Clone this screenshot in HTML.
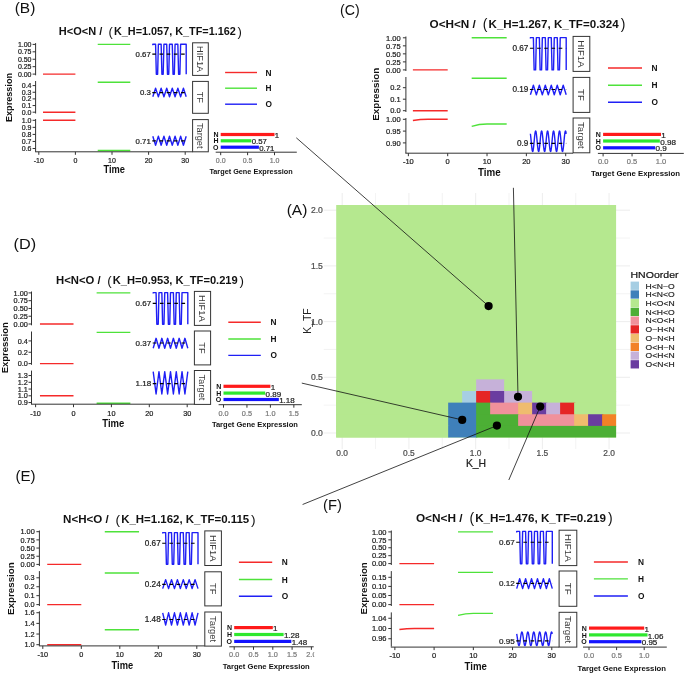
<!DOCTYPE html>
<html><head><meta charset="utf-8"><style>
html,body{margin:0;padding:0;background:#fff;}
body{width:685px;height:673px;overflow:hidden;}
svg{display:block;font-family:"Liberation Sans",sans-serif;will-change:transform;}
</style></head><body>
<svg width="685" height="673" viewBox="0 0 685 673">
<defs><clipPath id="clipE"><rect x="0" y="600" width="314.2" height="73"/></clipPath></defs>
<rect width="685" height="673" fill="#fff"/>
<line x1="342.20" y1="193.00" x2="342.20" y2="449.00" stroke="#ebebeb" stroke-width="0.9" />
<line x1="323.80" y1="433.00" x2="630.00" y2="433.00" stroke="#ebebeb" stroke-width="0.9" />
<line x1="375.56" y1="193.00" x2="375.56" y2="449.00" stroke="#ebebeb" stroke-width="0.6" />
<line x1="323.80" y1="405.15" x2="630.00" y2="405.15" stroke="#ebebeb" stroke-width="0.6" />
<line x1="408.92" y1="193.00" x2="408.92" y2="449.00" stroke="#ebebeb" stroke-width="0.9" />
<line x1="323.80" y1="377.30" x2="630.00" y2="377.30" stroke="#ebebeb" stroke-width="0.9" />
<line x1="442.29" y1="193.00" x2="442.29" y2="449.00" stroke="#ebebeb" stroke-width="0.6" />
<line x1="323.80" y1="349.45" x2="630.00" y2="349.45" stroke="#ebebeb" stroke-width="0.6" />
<line x1="475.65" y1="193.00" x2="475.65" y2="449.00" stroke="#ebebeb" stroke-width="0.9" />
<line x1="323.80" y1="321.60" x2="630.00" y2="321.60" stroke="#ebebeb" stroke-width="0.9" />
<line x1="509.01" y1="193.00" x2="509.01" y2="449.00" stroke="#ebebeb" stroke-width="0.6" />
<line x1="323.80" y1="293.75" x2="630.00" y2="293.75" stroke="#ebebeb" stroke-width="0.6" />
<line x1="542.38" y1="193.00" x2="542.38" y2="449.00" stroke="#ebebeb" stroke-width="0.9" />
<line x1="323.80" y1="265.90" x2="630.00" y2="265.90" stroke="#ebebeb" stroke-width="0.9" />
<line x1="575.74" y1="193.00" x2="575.74" y2="449.00" stroke="#ebebeb" stroke-width="0.6" />
<line x1="323.80" y1="238.05" x2="630.00" y2="238.05" stroke="#ebebeb" stroke-width="0.6" />
<line x1="609.10" y1="193.00" x2="609.10" y2="449.00" stroke="#ebebeb" stroke-width="0.9" />
<line x1="323.80" y1="210.20" x2="630.00" y2="210.20" stroke="#ebebeb" stroke-width="0.9" />
<rect x="336.2" y="205.0" width="279.90" height="232.50" fill="#b5e88f"/>
<rect x="336.20" y="379.38" width="141.15" height="12.82" fill="#b5e88f"/>
<rect x="476.15" y="379.38" width="29.19" height="12.82" fill="#c6b1d9"/>
<rect x="504.14" y="379.38" width="111.96" height="12.82" fill="#b5e88f"/>
<rect x="336.20" y="391.00" width="127.16" height="12.82" fill="#b5e88f"/>
<rect x="462.15" y="391.00" width="15.20" height="12.82" fill="#a6cee3"/>
<rect x="476.15" y="391.00" width="15.20" height="12.82" fill="#e52525"/>
<rect x="490.14" y="391.00" width="15.20" height="12.82" fill="#6a3da0"/>
<rect x="504.14" y="391.00" width="29.19" height="12.82" fill="#c6b1d9"/>
<rect x="532.13" y="391.00" width="83.97" height="12.82" fill="#b5e88f"/>
<rect x="336.20" y="402.62" width="113.16" height="12.82" fill="#b5e88f"/>
<rect x="448.16" y="402.62" width="29.19" height="12.82" fill="#3f80ba"/>
<rect x="476.15" y="402.62" width="15.20" height="12.82" fill="#4caf35"/>
<rect x="490.14" y="402.62" width="29.19" height="12.82" fill="#f0919b"/>
<rect x="518.13" y="402.62" width="15.20" height="12.82" fill="#efbc6e"/>
<rect x="532.13" y="402.62" width="15.20" height="12.82" fill="#6a3da0"/>
<rect x="546.12" y="402.62" width="15.20" height="12.82" fill="#c6b1d9"/>
<rect x="560.12" y="402.62" width="15.20" height="12.82" fill="#e52525"/>
<rect x="574.12" y="402.62" width="41.98" height="12.82" fill="#b5e88f"/>
<rect x="336.20" y="414.25" width="113.16" height="12.82" fill="#b5e88f"/>
<rect x="448.16" y="414.25" width="29.19" height="12.82" fill="#3f80ba"/>
<rect x="476.15" y="414.25" width="43.19" height="12.82" fill="#4caf35"/>
<rect x="518.13" y="414.25" width="57.18" height="12.82" fill="#f0919b"/>
<rect x="574.12" y="414.25" width="15.20" height="12.82" fill="#efbc6e"/>
<rect x="588.11" y="414.25" width="15.20" height="12.82" fill="#6a3da0"/>
<rect x="602.11" y="414.25" width="14.00" height="12.82" fill="#f28227"/>
<rect x="336.20" y="425.88" width="113.16" height="11.62" fill="#b5e88f"/>
<rect x="448.16" y="425.88" width="29.19" height="11.62" fill="#3f80ba"/>
<rect x="476.15" y="425.88" width="139.95" height="11.62" fill="#4caf35"/>
<text x="322.90" y="436.00" font-size="8.6" text-anchor="end" stroke="#4d4d4d" stroke-width="0.22" fill="#4d4d4d" >0.0</text>
<text x="342.20" y="455.90" font-size="8.4" text-anchor="middle" stroke="#4d4d4d" stroke-width="0.22" fill="#4d4d4d" >0.0</text>
<text x="322.90" y="380.30" font-size="8.6" text-anchor="end" stroke="#4d4d4d" stroke-width="0.22" fill="#4d4d4d" >0.5</text>
<text x="408.92" y="455.90" font-size="8.4" text-anchor="middle" stroke="#4d4d4d" stroke-width="0.22" fill="#4d4d4d" >0.5</text>
<text x="322.90" y="324.60" font-size="8.6" text-anchor="end" stroke="#4d4d4d" stroke-width="0.22" fill="#4d4d4d" >1.0</text>
<text x="475.65" y="455.90" font-size="8.4" text-anchor="middle" stroke="#4d4d4d" stroke-width="0.22" fill="#4d4d4d" >1.0</text>
<text x="322.90" y="268.90" font-size="8.6" text-anchor="end" stroke="#4d4d4d" stroke-width="0.22" fill="#4d4d4d" >1.5</text>
<text x="542.38" y="455.90" font-size="8.4" text-anchor="middle" stroke="#4d4d4d" stroke-width="0.22" fill="#4d4d4d" >1.5</text>
<text x="322.90" y="213.20" font-size="8.6" text-anchor="end" stroke="#4d4d4d" stroke-width="0.22" fill="#4d4d4d" >2.0</text>
<text x="609.10" y="455.90" font-size="8.4" text-anchor="middle" stroke="#4d4d4d" stroke-width="0.22" fill="#4d4d4d" >2.0</text>
<text x="476.00" y="466.90" font-size="10.4" text-anchor="middle" stroke="#222" stroke-width="0.22" fill="#222" >K_H</text>
<text x="0" y="0" font-size="10.4" fill="#222" text-anchor="middle" transform="translate(311.3,321) rotate(-90)">K_TF</text>
<text x="286.70" y="214.90" font-size="15.5" fill="#111" textLength="20.70" lengthAdjust="spacingAndGlyphs">(A)</text>
<text x="630.5" y="278.4" font-size="9.6" fill="#111" stroke="#111" stroke-width="0.2" textLength="48" lengthAdjust="spacingAndGlyphs">HNOorder</text>
<rect x="630.6" y="281.60" width="8.4" height="8.3" fill="#a6cee3"/>
<text x="645.6" y="288.50" font-size="8" fill="#222" stroke="#222" stroke-width="0.18" textLength="29" lengthAdjust="spacingAndGlyphs">H&lt;N~O</text>
<rect x="630.6" y="290.33" width="8.4" height="8.3" fill="#3f80ba"/>
<text x="645.6" y="297.23" font-size="8" fill="#222" stroke="#222" stroke-width="0.18" textLength="29" lengthAdjust="spacingAndGlyphs">H&lt;N&lt;O</text>
<rect x="630.6" y="299.06" width="8.4" height="8.3" fill="#b5e88f"/>
<text x="645.6" y="305.96" font-size="8" fill="#222" stroke="#222" stroke-width="0.18" textLength="29" lengthAdjust="spacingAndGlyphs">H&lt;O&lt;N</text>
<rect x="630.6" y="307.79" width="8.4" height="8.3" fill="#4caf35"/>
<text x="645.6" y="314.69" font-size="8" fill="#222" stroke="#222" stroke-width="0.18" textLength="29" lengthAdjust="spacingAndGlyphs">N&lt;H&lt;O</text>
<rect x="630.6" y="316.52" width="8.4" height="8.3" fill="#f0919b"/>
<text x="645.6" y="323.42" font-size="8" fill="#222" stroke="#222" stroke-width="0.18" textLength="29" lengthAdjust="spacingAndGlyphs">N&lt;O&lt;H</text>
<rect x="630.6" y="325.25" width="8.4" height="8.3" fill="#e52525"/>
<text x="645.6" y="332.15" font-size="8" fill="#222" stroke="#222" stroke-width="0.18" textLength="29" lengthAdjust="spacingAndGlyphs">O~H&lt;N</text>
<rect x="630.6" y="333.98" width="8.4" height="8.3" fill="#efbc6e"/>
<text x="645.6" y="340.88" font-size="8" fill="#222" stroke="#222" stroke-width="0.18" textLength="29" lengthAdjust="spacingAndGlyphs">O~N&lt;H</text>
<rect x="630.6" y="342.71" width="8.4" height="8.3" fill="#f28227"/>
<text x="645.6" y="349.61" font-size="8" fill="#222" stroke="#222" stroke-width="0.18" textLength="29" lengthAdjust="spacingAndGlyphs">O&lt;H~N</text>
<rect x="630.6" y="351.44" width="8.4" height="8.3" fill="#c6b1d9"/>
<text x="645.6" y="358.34" font-size="8" fill="#222" stroke="#222" stroke-width="0.18" textLength="29" lengthAdjust="spacingAndGlyphs">O&lt;H&lt;N</text>
<rect x="630.6" y="360.17" width="8.4" height="8.3" fill="#6a3da0"/>
<text x="645.6" y="367.07" font-size="8" fill="#222" stroke="#222" stroke-width="0.18" textLength="29" lengthAdjust="spacingAndGlyphs">O&lt;N&lt;H</text>
<text x="14.70" y="12.60" font-size="15.5" fill="#111" textLength="20.70" lengthAdjust="spacingAndGlyphs">(B)</text>
<text x="58.80" y="35" font-size="11.00" font-weight="bold" fill="#111">H&lt;O&lt;N /</text>
<text x="108.60" y="36.20" font-size="13.00" fill="#111">(</text>
<text x="114.00" y="35" font-size="11.00" font-weight="bold" fill="#111" textLength="121.8" lengthAdjust="spacingAndGlyphs">K_H=1.057, K_TF=1.162</text>
<text x="237.60" y="36.20" font-size="13.00" fill="#111">)</text>
<line x1="35.60" y1="43.10" x2="35.60" y2="75.30" stroke="#333333" stroke-width="1" />
<line x1="32.60" y1="74.10" x2="35.60" y2="74.10" stroke="#333333" stroke-width="1" />
<text x="31.50" y="76.62" font-size="7.0" text-anchor="end" stroke="#222222" stroke-width="0.22" fill="#222222" >0.00</text>
<line x1="32.60" y1="66.67" x2="35.60" y2="66.67" stroke="#333333" stroke-width="1" />
<text x="31.50" y="69.19" font-size="7.0" text-anchor="end" stroke="#222222" stroke-width="0.22" fill="#222222" >0.25</text>
<line x1="32.60" y1="59.25" x2="35.60" y2="59.25" stroke="#333333" stroke-width="1" />
<text x="31.50" y="61.77" font-size="7.0" text-anchor="end" stroke="#222222" stroke-width="0.22" fill="#222222" >0.50</text>
<line x1="32.60" y1="51.82" x2="35.60" y2="51.82" stroke="#333333" stroke-width="1" />
<text x="31.50" y="54.34" font-size="7.0" text-anchor="end" stroke="#222222" stroke-width="0.22" fill="#222222" >0.75</text>
<line x1="32.60" y1="44.40" x2="35.60" y2="44.40" stroke="#333333" stroke-width="1" />
<text x="31.50" y="46.92" font-size="7.0" text-anchor="end" stroke="#222222" stroke-width="0.22" fill="#222222" >1.00</text>
<line x1="43.01" y1="74.10" x2="75.40" y2="74.10" stroke="#f52a2a" stroke-width="1.4" />
<line x1="97.73" y1="44.40" x2="130.30" y2="44.40" stroke="#4ee23a" stroke-width="1.4" />
<path d="M152.80,45.20 L152.80,44.20 L155.58,44.20 L156.33,74.30 L157.62,74.30 L158.37,44.20 L161.15,44.20 L161.90,74.30 L163.18,74.30 L163.93,44.20 L166.72,44.20 L167.47,74.30 L168.75,74.30 L169.50,44.20 L172.28,44.20 L173.03,74.30 L174.32,74.30 L175.07,44.20 L177.85,44.20 L178.60,74.30 L179.88,74.30 L180.63,44.20 L186.20,44.20 L186.20,74.30" fill="none" stroke="#1f1ff5" stroke-width="1.4" stroke-linejoin="round" />
<line x1="152.30" y1="54.10" x2="186.20" y2="54.10" stroke="#000" stroke-width="1.15" stroke-dasharray="3.6 3.6"/>
<text x="150.80" y="56.91" font-size="7.8" text-anchor="end" stroke="#222222" stroke-width="0.22" fill="#222222" >0.67</text>
<rect x="192.60" y="42.80" width="15.70" height="32.60" fill="#fff" stroke="#333" stroke-width="1"/>
<text x="0" y="0" font-size="9.2" fill="#3a3a3a" text-anchor="middle" transform="translate(197.23,59.10) rotate(90)">HIF1A</text>
<line x1="35.60" y1="81.00" x2="35.60" y2="113.50" stroke="#333333" stroke-width="1" />
<line x1="32.60" y1="112.20" x2="35.60" y2="112.20" stroke="#333333" stroke-width="1" />
<text x="31.50" y="114.72" font-size="7.0" text-anchor="end" stroke="#222222" stroke-width="0.22" fill="#222222" >0.0</text>
<line x1="32.60" y1="105.55" x2="35.60" y2="105.55" stroke="#333333" stroke-width="1" />
<text x="31.50" y="108.07" font-size="7.0" text-anchor="end" stroke="#222222" stroke-width="0.22" fill="#222222" >0.1</text>
<line x1="32.60" y1="98.90" x2="35.60" y2="98.90" stroke="#333333" stroke-width="1" />
<text x="31.50" y="101.42" font-size="7.0" text-anchor="end" stroke="#222222" stroke-width="0.22" fill="#222222" >0.2</text>
<line x1="32.60" y1="92.25" x2="35.60" y2="92.25" stroke="#333333" stroke-width="1" />
<text x="31.50" y="94.77" font-size="7.0" text-anchor="end" stroke="#222222" stroke-width="0.22" fill="#222222" >0.3</text>
<line x1="32.60" y1="85.60" x2="35.60" y2="85.60" stroke="#333333" stroke-width="1" />
<text x="31.50" y="88.12" font-size="7.0" text-anchor="end" stroke="#222222" stroke-width="0.22" fill="#222222" >0.4</text>
<line x1="43.01" y1="112.20" x2="75.40" y2="112.20" stroke="#f52a2a" stroke-width="1.4" />
<line x1="97.73" y1="82.28" x2="130.30" y2="82.28" stroke="#4ee23a" stroke-width="1.4" />
<path d="M152.80,96.80 L155.58,88.20 L158.37,96.80 L161.15,88.20 L163.93,96.80 L166.72,88.20 L169.50,96.80 L172.28,88.20 L175.07,96.80 L177.85,88.20 L180.63,96.80 L183.42,88.20 L186.20,96.80" fill="none" stroke="#1f1ff5" stroke-width="1.4" stroke-linejoin="round" />
<line x1="152.30" y1="92.60" x2="186.20" y2="92.60" stroke="#000" stroke-width="1.15" stroke-dasharray="3.6 3.6"/>
<text x="150.80" y="95.41" font-size="7.8" text-anchor="end" stroke="#222222" stroke-width="0.22" fill="#222222" >0.3</text>
<rect x="192.60" y="81.40" width="15.70" height="31.90" fill="#fff" stroke="#333" stroke-width="1"/>
<text x="0" y="0" font-size="9.2" fill="#3a3a3a" text-anchor="middle" transform="translate(197.23,97.35) rotate(90)">TF</text>
<line x1="35.60" y1="119.00" x2="35.60" y2="151.80" stroke="#333333" stroke-width="1" />
<line x1="32.60" y1="148.50" x2="35.60" y2="148.50" stroke="#333333" stroke-width="1" />
<text x="31.50" y="151.02" font-size="7.0" text-anchor="end" stroke="#222222" stroke-width="0.22" fill="#222222" >0.6</text>
<line x1="32.60" y1="141.45" x2="35.60" y2="141.45" stroke="#333333" stroke-width="1" />
<text x="31.50" y="143.97" font-size="7.0" text-anchor="end" stroke="#222222" stroke-width="0.22" fill="#222222" >0.7</text>
<line x1="32.60" y1="134.40" x2="35.60" y2="134.40" stroke="#333333" stroke-width="1" />
<text x="31.50" y="136.92" font-size="7.0" text-anchor="end" stroke="#222222" stroke-width="0.22" fill="#222222" >0.8</text>
<line x1="32.60" y1="127.35" x2="35.60" y2="127.35" stroke="#333333" stroke-width="1" />
<text x="31.50" y="129.87" font-size="7.0" text-anchor="end" stroke="#222222" stroke-width="0.22" fill="#222222" >0.9</text>
<line x1="32.60" y1="120.30" x2="35.60" y2="120.30" stroke="#333333" stroke-width="1" />
<text x="31.50" y="122.82" font-size="7.0" text-anchor="end" stroke="#222222" stroke-width="0.22" fill="#222222" >1.0</text>
<line x1="43.01" y1="120.30" x2="75.40" y2="120.30" stroke="#f52a2a" stroke-width="1.4" />
<line x1="97.73" y1="150.50" x2="130.30" y2="150.50" stroke="#4ee23a" stroke-width="1.4" />
<path d="M152.80,136.20 L155.58,145.20 L158.37,136.20 L161.15,145.20 L163.93,136.20 L166.72,145.20 L169.50,136.20 L172.28,145.20 L175.07,136.20 L177.85,145.20 L180.63,136.20 L183.42,145.20 L186.20,136.20" fill="none" stroke="#1f1ff5" stroke-width="1.4" stroke-linejoin="round" />
<line x1="152.30" y1="140.90" x2="186.20" y2="140.90" stroke="#000" stroke-width="1.15" stroke-dasharray="3.6 3.6"/>
<text x="150.80" y="143.71" font-size="7.8" text-anchor="end" stroke="#222222" stroke-width="0.22" fill="#222222" >0.71</text>
<rect x="192.60" y="119.60" width="15.70" height="32.20" fill="#fff" stroke="#333" stroke-width="1"/>
<text x="0" y="0" font-size="9.2" fill="#3a3a3a" text-anchor="middle" transform="translate(197.23,135.70) rotate(90)">Target</text>
<line x1="35.10" y1="151.80" x2="192.60" y2="151.80" stroke="#333333" stroke-width="1" />
<line x1="38.80" y1="151.80" x2="38.80" y2="154.80" stroke="#333333" stroke-width="1" />
<text x="38.80" y="162.52" font-size="7.0" text-anchor="middle" stroke="#222222" stroke-width="0.22" fill="#222222" >-10</text>
<line x1="75.40" y1="151.80" x2="75.40" y2="154.80" stroke="#333333" stroke-width="1" />
<text x="75.40" y="162.52" font-size="7.0" text-anchor="middle" stroke="#222222" stroke-width="0.22" fill="#222222" >0</text>
<line x1="112.00" y1="151.80" x2="112.00" y2="154.80" stroke="#333333" stroke-width="1" />
<text x="112.00" y="162.52" font-size="7.0" text-anchor="middle" stroke="#222222" stroke-width="0.22" fill="#222222" >10</text>
<line x1="148.60" y1="151.80" x2="148.60" y2="154.80" stroke="#333333" stroke-width="1" />
<text x="148.60" y="162.52" font-size="7.0" text-anchor="middle" stroke="#222222" stroke-width="0.22" fill="#222222" >20</text>
<line x1="185.20" y1="151.80" x2="185.20" y2="154.80" stroke="#333333" stroke-width="1" />
<text x="185.20" y="162.52" font-size="7.0" text-anchor="middle" stroke="#222222" stroke-width="0.22" fill="#222222" >30</text>
<text x="103.5" y="173.40" font-size="10.2" font-weight="bold" fill="#111" textLength="21.5" lengthAdjust="spacingAndGlyphs">Time</text>
<text x="0" y="0" font-size="9.5" font-weight="bold" fill="#111" textLength="49.0" lengthAdjust="spacingAndGlyphs" transform="translate(12.20,122.00) rotate(-90)">Expression</text>
<line x1="225.10" y1="72.50" x2="257.00" y2="72.50" stroke="#f52a2a" stroke-width="1.4" />
<text x="265.60" y="75.50" font-size="8.3" text-anchor="start" font-weight="bold" fill="#111" >N</text>
<line x1="225.10" y1="88.20" x2="257.00" y2="88.20" stroke="#4ee23a" stroke-width="1.4" />
<text x="265.60" y="91.20" font-size="8.3" text-anchor="start" font-weight="bold" fill="#111" >H</text>
<line x1="225.10" y1="104.20" x2="257.00" y2="104.20" stroke="#1f1ff5" stroke-width="1.4" />
<text x="265.60" y="107.20" font-size="8.3" text-anchor="start" font-weight="bold" fill="#111" >O</text>
<rect x="220.70" y="132.90" width="53.80" height="3.2" fill="#ff1a1a"/>
<text x="274.80" y="138.10" font-size="7.8" text-anchor="start" stroke="#222222" stroke-width="0.22" fill="#222222" >1</text>
<text x="218.50" y="137.10" font-size="7" text-anchor="end" font-weight="bold" fill="#111" >N</text>
<rect x="220.70" y="139.20" width="30.67" height="3.2" fill="#2ee82e"/>
<text x="251.67" y="144.40" font-size="7.8" text-anchor="start" stroke="#222222" stroke-width="0.22" fill="#222222" >0.57</text>
<text x="218.50" y="143.40" font-size="7" text-anchor="end" font-weight="bold" fill="#111" >H</text>
<rect x="220.70" y="145.60" width="38.20" height="3.2" fill="#1414ff"/>
<text x="259.20" y="150.80" font-size="7.8" text-anchor="start" stroke="#222222" stroke-width="0.22" fill="#222222" >0.71</text>
<text x="218.50" y="149.80" font-size="7" text-anchor="end" font-weight="bold" fill="#111" >O</text>
<line x1="215.70" y1="152.20" x2="296.80" y2="152.20" stroke="#333333" stroke-width="1" />
<line x1="220.70" y1="152.20" x2="220.70" y2="155.20" stroke="#333333" stroke-width="1" />
<text x="220.70" y="162.72" font-size="7.0" text-anchor="middle" stroke="#7a7a7a" stroke-width="0.22" fill="#7a7a7a" >0.0</text>
<line x1="247.60" y1="152.20" x2="247.60" y2="155.20" stroke="#333333" stroke-width="1" />
<text x="247.60" y="162.72" font-size="7.0" text-anchor="middle" stroke="#7a7a7a" stroke-width="0.22" fill="#7a7a7a" >0.5</text>
<line x1="274.50" y1="152.20" x2="274.50" y2="155.20" stroke="#333333" stroke-width="1" />
<text x="274.50" y="162.72" font-size="7.0" text-anchor="middle" stroke="#7a7a7a" stroke-width="0.22" fill="#7a7a7a" >1.0</text>
<text x="209.4" y="174.00" font-size="7.3" font-weight="bold" fill="#111" textLength="83.3" lengthAdjust="spacingAndGlyphs">Target Gene Expression</text>
<text x="340.10" y="14.60" font-size="15.5" fill="#111" textLength="19.70" lengthAdjust="spacingAndGlyphs">(C)</text>
<text x="429.50" y="28.2" font-size="11.76" font-weight="bold" fill="#111">O&lt;H&lt;N /</text>
<text x="482.74" y="29.48" font-size="13.90" fill="#111">(</text>
<text x="488.52" y="28.2" font-size="11.76" font-weight="bold" fill="#111" textLength="130.2" lengthAdjust="spacingAndGlyphs">K_H=1.267, K_TF=0.324</text>
<text x="620.66" y="29.48" font-size="13.90" fill="#111">)</text>
<line x1="405.90" y1="36.50" x2="405.90" y2="71.00" stroke="#333333" stroke-width="1" />
<line x1="402.90" y1="69.90" x2="405.90" y2="69.90" stroke="#333333" stroke-width="1" />
<text x="400.60" y="72.60" font-size="7.5" text-anchor="end" stroke="#222222" stroke-width="0.22" fill="#222222" >0.00</text>
<line x1="402.90" y1="61.88" x2="405.90" y2="61.88" stroke="#333333" stroke-width="1" />
<text x="400.60" y="64.58" font-size="7.5" text-anchor="end" stroke="#222222" stroke-width="0.22" fill="#222222" >0.25</text>
<line x1="402.90" y1="53.85" x2="405.90" y2="53.85" stroke="#333333" stroke-width="1" />
<text x="400.60" y="56.55" font-size="7.5" text-anchor="end" stroke="#222222" stroke-width="0.22" fill="#222222" >0.50</text>
<line x1="402.90" y1="45.83" x2="405.90" y2="45.83" stroke="#333333" stroke-width="1" />
<text x="400.60" y="48.53" font-size="7.5" text-anchor="end" stroke="#222222" stroke-width="0.22" fill="#222222" >0.75</text>
<line x1="402.90" y1="37.80" x2="405.90" y2="37.80" stroke="#333333" stroke-width="1" />
<text x="400.60" y="40.50" font-size="7.5" text-anchor="end" stroke="#222222" stroke-width="0.22" fill="#222222" >1.00</text>
<line x1="412.89" y1="69.90" x2="447.70" y2="69.90" stroke="#f52a2a" stroke-width="1.4" />
<line x1="471.69" y1="37.80" x2="506.69" y2="37.80" stroke="#4ee23a" stroke-width="1.4" />
<path d="M530.40,38.60 L530.40,37.60 L533.38,37.60 L534.13,69.90 L535.62,69.90 L536.37,37.60 L539.35,37.60 L540.10,69.90 L541.58,69.90 L542.33,37.60 L545.32,37.60 L546.07,69.90 L547.55,69.90 L548.30,37.60 L551.28,37.60 L552.03,69.90 L553.52,69.90 L554.27,37.60 L557.25,37.60 L558.00,69.90 L559.48,69.90 L560.23,37.60 L566.20,37.60 L566.20,69.90" fill="none" stroke="#1f1ff5" stroke-width="1.4" stroke-linejoin="round" />
<line x1="529.90" y1="48.20" x2="566.20" y2="48.20" stroke="#000" stroke-width="1.15" stroke-dasharray="3.6 3.6"/>
<text x="528.40" y="51.15" font-size="8.2" text-anchor="end" stroke="#222222" stroke-width="0.22" fill="#222222" >0.67</text>
<rect x="573.10" y="36.40" width="16.70" height="35.00" fill="#fff" stroke="#333" stroke-width="1"/>
<text x="0" y="0" font-size="9.6" fill="#3a3a3a" text-anchor="middle" transform="translate(578.09,53.90) rotate(90)">HIF1A</text>
<line x1="405.90" y1="77.00" x2="405.90" y2="112.00" stroke="#333333" stroke-width="1" />
<line x1="402.90" y1="110.70" x2="405.90" y2="110.70" stroke="#333333" stroke-width="1" />
<text x="400.60" y="113.40" font-size="7.5" text-anchor="end" stroke="#222222" stroke-width="0.22" fill="#222222" >0.0</text>
<line x1="402.90" y1="99.20" x2="405.90" y2="99.20" stroke="#333333" stroke-width="1" />
<text x="400.60" y="101.90" font-size="7.5" text-anchor="end" stroke="#222222" stroke-width="0.22" fill="#222222" >0.1</text>
<line x1="402.90" y1="87.70" x2="405.90" y2="87.70" stroke="#333333" stroke-width="1" />
<text x="400.60" y="90.40" font-size="7.5" text-anchor="end" stroke="#222222" stroke-width="0.22" fill="#222222" >0.2</text>
<line x1="412.89" y1="110.70" x2="447.70" y2="110.70" stroke="#f52a2a" stroke-width="1.4" />
<line x1="471.69" y1="78.27" x2="506.69" y2="78.27" stroke="#4ee23a" stroke-width="1.4" />
<path d="M530.40,94.80 L533.38,85.20 L536.37,94.80 L539.35,85.20 L542.33,94.80 L545.32,85.20 L548.30,94.80 L551.28,85.20 L554.27,94.80 L557.25,85.20 L560.23,94.80 L563.22,85.20 L566.20,94.80" fill="none" stroke="#1f1ff5" stroke-width="1.4" stroke-linejoin="round" />
<line x1="529.90" y1="89.50" x2="566.20" y2="89.50" stroke="#000" stroke-width="1.15" stroke-dasharray="3.6 3.6"/>
<text x="528.40" y="92.45" font-size="8.2" text-anchor="end" stroke="#222222" stroke-width="0.22" fill="#222222" >0.19</text>
<rect x="573.10" y="77.40" width="16.70" height="35.00" fill="#fff" stroke="#333" stroke-width="1"/>
<text x="0" y="0" font-size="9.6" fill="#3a3a3a" text-anchor="middle" transform="translate(578.09,94.90) rotate(90)">TF</text>
<line x1="405.90" y1="118.00" x2="405.90" y2="153.20" stroke="#333333" stroke-width="1" />
<line x1="402.90" y1="142.90" x2="405.90" y2="142.90" stroke="#333333" stroke-width="1" />
<text x="400.60" y="145.60" font-size="7.5" text-anchor="end" stroke="#222222" stroke-width="0.22" fill="#222222" >0.90</text>
<line x1="402.90" y1="131.10" x2="405.90" y2="131.10" stroke="#333333" stroke-width="1" />
<text x="400.60" y="133.80" font-size="7.5" text-anchor="end" stroke="#222222" stroke-width="0.22" fill="#222222" >0.95</text>
<line x1="402.90" y1="119.30" x2="405.90" y2="119.30" stroke="#333333" stroke-width="1" />
<text x="400.60" y="122.00" font-size="7.5" text-anchor="end" stroke="#222222" stroke-width="0.22" fill="#222222" >1.00</text>
<path d="M412.89,120.48 Q420.17,119.30 428.03,119.30 L447.70,119.30" fill="none" stroke="#f52a2a" stroke-width="1.4" stroke-linejoin="round" />
<path d="M471.69,126.38 Q479.16,124.02 487.03,124.02 L506.69,124.02" fill="none" stroke="#4ee23a" stroke-width="1.4" stroke-linejoin="round" />
<path d="M530.40,133.78 L530.55,134.97 L530.70,136.31 L530.85,137.78 L531.00,139.33 L531.15,140.93 L531.29,142.53 L531.44,144.11 L531.59,145.61 L531.74,147.01 L531.89,148.27 L532.04,149.35 L532.19,150.23 L532.34,150.89 L532.49,151.32 L532.64,151.49 L532.79,151.42 L532.94,151.09 L533.09,150.52 L533.23,149.73 L533.38,148.72 L533.53,147.53 L533.68,146.19 L533.83,144.72 L533.98,143.17 L534.13,141.57 L534.28,139.97 L534.43,138.39 L534.58,136.89 L534.73,135.49 L534.88,134.23 L535.02,133.15 L535.17,132.27 L535.32,131.61 L535.47,131.18 L535.62,131.01 L535.77,131.08 L535.92,131.41 L536.07,131.98 L536.22,132.77 L536.37,133.78 L536.52,134.97 L536.66,136.31 L536.81,137.78 L536.96,139.33 L537.11,140.93 L537.26,142.53 L537.41,144.11 L537.56,145.61 L537.71,147.01 L537.86,148.27 L538.01,149.35 L538.16,150.23 L538.31,150.89 L538.46,151.32 L538.60,151.49 L538.75,151.42 L538.90,151.09 L539.05,150.52 L539.20,149.73 L539.35,148.72 L539.50,147.53 L539.65,146.19 L539.80,144.72 L539.95,143.17 L540.10,141.57 L540.25,139.97 L540.39,138.39 L540.54,136.89 L540.69,135.49 L540.84,134.23 L540.99,133.15 L541.14,132.27 L541.29,131.61 L541.44,131.18 L541.59,131.01 L541.74,131.08 L541.89,131.41 L542.03,131.98 L542.18,132.77 L542.33,133.78 L542.48,134.97 L542.63,136.31 L542.78,137.78 L542.93,139.33 L543.08,140.93 L543.23,142.53 L543.38,144.11 L543.53,145.61 L543.68,147.01 L543.83,148.27 L543.97,149.35 L544.12,150.23 L544.27,150.89 L544.42,151.32 L544.57,151.49 L544.72,151.42 L544.87,151.09 L545.02,150.52 L545.17,149.73 L545.32,148.72 L545.47,147.53 L545.62,146.19 L545.76,144.72 L545.91,143.17 L546.06,141.57 L546.21,139.97 L546.36,138.39 L546.51,136.89 L546.66,135.49 L546.81,134.23 L546.96,133.15 L547.11,132.27 L547.26,131.61 L547.40,131.18 L547.55,131.01 L547.70,131.08 L547.85,131.41 L548.00,131.98 L548.15,132.77 L548.30,133.78 L548.45,134.97 L548.60,136.31 L548.75,137.78 L548.90,139.33 L549.05,140.93 L549.20,142.53 L549.34,144.11 L549.49,145.61 L549.64,147.01 L549.79,148.27 L549.94,149.35 L550.09,150.23 L550.24,150.89 L550.39,151.32 L550.54,151.49 L550.69,151.42 L550.84,151.09 L550.99,150.52 L551.13,149.73 L551.28,148.72 L551.43,147.53 L551.58,146.19 L551.73,144.72 L551.88,143.17 L552.03,141.57 L552.18,139.97 L552.33,138.39 L552.48,136.89 L552.63,135.49 L552.77,134.23 L552.92,133.15 L553.07,132.27 L553.22,131.61 L553.37,131.18 L553.52,131.01 L553.67,131.08 L553.82,131.41 L553.97,131.98 L554.12,132.77 L554.27,133.78 L554.42,134.97 L554.57,136.31 L554.71,137.78 L554.86,139.33 L555.01,140.93 L555.16,142.53 L555.31,144.11 L555.46,145.61 L555.61,147.01 L555.76,148.27 L555.91,149.35 L556.06,150.23 L556.21,150.89 L556.36,151.32 L556.50,151.49 L556.65,151.42 L556.80,151.09 L556.95,150.52 L557.10,149.73 L557.25,148.72 L557.40,147.53 L557.55,146.19 L557.70,144.72 L557.85,143.17 L558.00,141.57 L558.14,139.97 L558.29,138.39 L558.44,136.89 L558.59,135.49 L558.74,134.23 L558.89,133.15 L559.04,132.27 L559.19,131.61 L559.34,131.18 L559.49,131.01 L559.64,131.08 L559.79,131.41 L559.94,131.98 L560.08,132.77 L560.23,133.78 L560.38,134.97 L560.53,136.31 L560.68,137.78 L560.83,139.33 L560.98,140.93 L561.13,142.53 L561.28,144.11 L561.43,145.61 L561.58,147.01 L561.73,148.27 L561.87,149.35 L562.02,150.23 L562.17,150.89 L562.32,151.32 L562.47,151.49 L562.62,151.42 L562.77,151.09 L562.92,150.52 L563.07,149.73 L563.22,148.72 L563.37,147.53 L563.52,146.19 L563.66,144.72 L563.81,143.17 L563.96,141.57 L564.11,139.97 L564.26,138.39 L564.41,136.89 L564.56,135.49 L564.71,134.23 L564.86,133.15 L565.01,132.27 L565.16,131.61 L565.31,131.18 L565.45,131.01 L565.60,131.08 L565.75,131.41 L565.90,131.98 L566.05,132.77 L566.20,133.78" fill="none" stroke="#1f1ff5" stroke-width="1.4" stroke-linejoin="round" />
<line x1="529.90" y1="143.30" x2="566.20" y2="143.30" stroke="#000" stroke-width="1.15" stroke-dasharray="3.6 3.6"/>
<text x="528.40" y="146.25" font-size="8.2" text-anchor="end" stroke="#222222" stroke-width="0.22" fill="#222222" >0.9</text>
<rect x="573.10" y="118.00" width="16.70" height="34.80" fill="#fff" stroke="#333" stroke-width="1"/>
<text x="0" y="0" font-size="9.6" fill="#3a3a3a" text-anchor="middle" transform="translate(578.09,135.40) rotate(90)">Target</text>
<line x1="405.40" y1="153.20" x2="573.10" y2="153.20" stroke="#333333" stroke-width="1" />
<line x1="408.37" y1="153.20" x2="408.37" y2="156.20" stroke="#333333" stroke-width="1" />
<text x="408.37" y="164.20" font-size="7.5" text-anchor="middle" stroke="#222222" stroke-width="0.22" fill="#222222" >-10</text>
<line x1="447.70" y1="153.20" x2="447.70" y2="156.20" stroke="#333333" stroke-width="1" />
<text x="447.70" y="164.20" font-size="7.5" text-anchor="middle" stroke="#222222" stroke-width="0.22" fill="#222222" >0</text>
<line x1="487.03" y1="153.20" x2="487.03" y2="156.20" stroke="#333333" stroke-width="1" />
<text x="487.03" y="164.20" font-size="7.5" text-anchor="middle" stroke="#222222" stroke-width="0.22" fill="#222222" >10</text>
<line x1="526.36" y1="153.20" x2="526.36" y2="156.20" stroke="#333333" stroke-width="1" />
<text x="526.36" y="164.20" font-size="7.5" text-anchor="middle" stroke="#222222" stroke-width="0.22" fill="#222222" >20</text>
<line x1="565.69" y1="153.20" x2="565.69" y2="156.20" stroke="#333333" stroke-width="1" />
<text x="565.69" y="164.20" font-size="7.5" text-anchor="middle" stroke="#222222" stroke-width="0.22" fill="#222222" >30</text>
<text x="478" y="176.00" font-size="10.2" font-weight="bold" fill="#111" textLength="22.7" lengthAdjust="spacingAndGlyphs">Time</text>
<text x="0" y="0" font-size="9.5" font-weight="bold" fill="#111" textLength="52.9" lengthAdjust="spacingAndGlyphs" transform="translate(379.40,120.70) rotate(-90)">Expression</text>
<line x1="608.00" y1="68.00" x2="642.00" y2="68.00" stroke="#f52a2a" stroke-width="1.4" />
<text x="651.60" y="71.00" font-size="8.3" text-anchor="start" font-weight="bold" fill="#111" >N</text>
<line x1="608.00" y1="85.20" x2="642.00" y2="85.20" stroke="#4ee23a" stroke-width="1.4" />
<text x="651.60" y="88.20" font-size="8.3" text-anchor="start" font-weight="bold" fill="#111" >H</text>
<line x1="608.00" y1="102.20" x2="642.00" y2="102.20" stroke="#1f1ff5" stroke-width="1.4" />
<text x="651.60" y="105.20" font-size="8.3" text-anchor="start" font-weight="bold" fill="#111" >O</text>
<rect x="603.10" y="132.80" width="57.90" height="3.2" fill="#ff1a1a"/>
<text x="661.30" y="138.00" font-size="8.1" text-anchor="start" stroke="#222222" stroke-width="0.22" fill="#222222" >1</text>
<text x="600.90" y="137.00" font-size="7" text-anchor="end" font-weight="bold" fill="#111" >N</text>
<rect x="603.10" y="139.40" width="56.74" height="3.2" fill="#2ee82e"/>
<text x="660.14" y="144.60" font-size="8.1" text-anchor="start" stroke="#222222" stroke-width="0.22" fill="#222222" >0.98</text>
<text x="600.90" y="143.60" font-size="7" text-anchor="end" font-weight="bold" fill="#111" >H</text>
<rect x="603.10" y="146.20" width="52.11" height="3.2" fill="#1414ff"/>
<text x="655.51" y="151.40" font-size="8.1" text-anchor="start" stroke="#222222" stroke-width="0.22" fill="#222222" >0.9</text>
<text x="600.90" y="150.40" font-size="7" text-anchor="end" font-weight="bold" fill="#111" >O</text>
<line x1="597.90" y1="153.40" x2="683.80" y2="153.40" stroke="#333333" stroke-width="1" />
<line x1="603.10" y1="153.40" x2="603.10" y2="156.40" stroke="#333333" stroke-width="1" />
<text x="603.10" y="164.40" font-size="7.5" text-anchor="middle" stroke="#7a7a7a" stroke-width="0.22" fill="#7a7a7a" >0.0</text>
<line x1="632.05" y1="153.40" x2="632.05" y2="156.40" stroke="#333333" stroke-width="1" />
<text x="632.05" y="164.40" font-size="7.5" text-anchor="middle" stroke="#7a7a7a" stroke-width="0.22" fill="#7a7a7a" >0.5</text>
<line x1="661.00" y1="153.40" x2="661.00" y2="156.40" stroke="#333333" stroke-width="1" />
<text x="661.00" y="164.40" font-size="7.5" text-anchor="middle" stroke="#7a7a7a" stroke-width="0.22" fill="#7a7a7a" >1.0</text>
<text x="591.1" y="175.90" font-size="7.3" font-weight="bold" fill="#111" textLength="88.9" lengthAdjust="spacingAndGlyphs">Target Gene Expression</text>
<text x="13.50" y="248.80" font-size="15.5" fill="#111" textLength="22.60" lengthAdjust="spacingAndGlyphs">(D)</text>
<text x="56.00" y="283.8" font-size="11.30" font-weight="bold" fill="#111">H&lt;N&lt;O /</text>
<text x="107.14" y="285.03" font-size="13.35" fill="#111">(</text>
<text x="112.68" y="283.8" font-size="11.30" font-weight="bold" fill="#111" textLength="125.1" lengthAdjust="spacingAndGlyphs">K_H=0.953, K_TF=0.219</text>
<text x="239.61" y="285.03" font-size="13.35" fill="#111">)</text>
<line x1="31.50" y1="291.50" x2="31.50" y2="325.30" stroke="#333333" stroke-width="1" />
<line x1="28.50" y1="324.00" x2="31.50" y2="324.00" stroke="#333333" stroke-width="1" />
<text x="27.80" y="326.63" font-size="7.3" text-anchor="end" stroke="#222222" stroke-width="0.22" fill="#222222" >0.00</text>
<line x1="28.50" y1="316.23" x2="31.50" y2="316.23" stroke="#333333" stroke-width="1" />
<text x="27.80" y="318.85" font-size="7.3" text-anchor="end" stroke="#222222" stroke-width="0.22" fill="#222222" >0.25</text>
<line x1="28.50" y1="308.45" x2="31.50" y2="308.45" stroke="#333333" stroke-width="1" />
<text x="27.80" y="311.08" font-size="7.3" text-anchor="end" stroke="#222222" stroke-width="0.22" fill="#222222" >0.50</text>
<line x1="28.50" y1="300.68" x2="31.50" y2="300.68" stroke="#333333" stroke-width="1" />
<text x="27.80" y="303.30" font-size="7.3" text-anchor="end" stroke="#222222" stroke-width="0.22" fill="#222222" >0.75</text>
<line x1="28.50" y1="292.90" x2="31.50" y2="292.90" stroke="#333333" stroke-width="1" />
<text x="27.80" y="295.53" font-size="7.3" text-anchor="end" stroke="#222222" stroke-width="0.22" fill="#222222" >1.00</text>
<line x1="39.96" y1="324.00" x2="73.50" y2="324.00" stroke="#f52a2a" stroke-width="1.4" />
<line x1="96.62" y1="292.90" x2="130.35" y2="292.90" stroke="#4ee23a" stroke-width="1.4" />
<path d="M153.20,293.60 L153.20,292.60 L156.08,292.60 L156.83,324.20 L158.22,324.20 L158.97,292.60 L161.85,292.60 L162.60,324.20 L163.98,324.20 L164.73,292.60 L167.62,292.60 L168.37,324.20 L169.75,324.20 L170.50,292.60 L173.38,292.60 L174.13,324.20 L175.52,324.20 L176.27,292.60 L179.15,292.60 L179.90,324.20 L181.28,324.20 L182.03,292.60 L187.80,292.60 L187.80,324.20" fill="none" stroke="#1f1ff5" stroke-width="1.4" stroke-linejoin="round" />
<line x1="152.70" y1="303.30" x2="187.80" y2="303.30" stroke="#000" stroke-width="1.15" stroke-dasharray="3.6 3.6"/>
<text x="151.20" y="306.18" font-size="8.0" text-anchor="end" stroke="#222222" stroke-width="0.22" fill="#222222" >0.67</text>
<rect x="194.40" y="291.40" width="16.20" height="34.00" fill="#fff" stroke="#333" stroke-width="1"/>
<text x="0" y="0" font-size="9.4" fill="#3a3a3a" text-anchor="middle" transform="translate(199.21,308.40) rotate(90)">HIF1A</text>
<line x1="31.50" y1="331.50" x2="31.50" y2="364.80" stroke="#333333" stroke-width="1" />
<line x1="28.50" y1="363.60" x2="31.50" y2="363.60" stroke="#333333" stroke-width="1" />
<text x="27.80" y="366.23" font-size="7.3" text-anchor="end" stroke="#222222" stroke-width="0.22" fill="#222222" >0.0</text>
<line x1="28.50" y1="352.26" x2="31.50" y2="352.26" stroke="#333333" stroke-width="1" />
<text x="27.80" y="354.89" font-size="7.3" text-anchor="end" stroke="#222222" stroke-width="0.22" fill="#222222" >0.2</text>
<line x1="28.50" y1="340.92" x2="31.50" y2="340.92" stroke="#333333" stroke-width="1" />
<text x="27.80" y="343.55" font-size="7.3" text-anchor="end" stroke="#222222" stroke-width="0.22" fill="#222222" >0.4</text>
<line x1="39.96" y1="363.60" x2="73.50" y2="363.60" stroke="#f52a2a" stroke-width="1.4" />
<line x1="96.62" y1="332.42" x2="130.35" y2="332.42" stroke="#4ee23a" stroke-width="1.4" />
<path d="M153.20,348.20 L156.08,338.30 L158.97,348.20 L161.85,338.30 L164.73,348.20 L167.62,338.30 L170.50,348.20 L173.38,338.30 L176.27,348.20 L179.15,338.30 L182.03,348.20 L184.92,338.30 L187.80,348.20" fill="none" stroke="#1f1ff5" stroke-width="1.4" stroke-linejoin="round" />
<line x1="152.70" y1="343.00" x2="187.80" y2="343.00" stroke="#000" stroke-width="1.15" stroke-dasharray="3.6 3.6"/>
<text x="151.20" y="345.88" font-size="8.0" text-anchor="end" stroke="#222222" stroke-width="0.22" fill="#222222" >0.37</text>
<rect x="194.40" y="331.00" width="16.20" height="33.90" fill="#fff" stroke="#333" stroke-width="1"/>
<text x="0" y="0" font-size="9.4" fill="#3a3a3a" text-anchor="middle" transform="translate(199.21,347.95) rotate(90)">TF</text>
<line x1="31.50" y1="370.60" x2="31.50" y2="404.20" stroke="#333333" stroke-width="1" />
<line x1="28.50" y1="402.55" x2="31.50" y2="402.55" stroke="#333333" stroke-width="1" />
<text x="27.80" y="405.18" font-size="7.3" text-anchor="end" stroke="#222222" stroke-width="0.22" fill="#222222" >0.9</text>
<line x1="28.50" y1="395.80" x2="31.50" y2="395.80" stroke="#333333" stroke-width="1" />
<text x="27.80" y="398.43" font-size="7.3" text-anchor="end" stroke="#222222" stroke-width="0.22" fill="#222222" >1.0</text>
<line x1="28.50" y1="389.05" x2="31.50" y2="389.05" stroke="#333333" stroke-width="1" />
<text x="27.80" y="391.68" font-size="7.3" text-anchor="end" stroke="#222222" stroke-width="0.22" fill="#222222" >1.1</text>
<line x1="28.50" y1="382.30" x2="31.50" y2="382.30" stroke="#333333" stroke-width="1" />
<text x="27.80" y="384.93" font-size="7.3" text-anchor="end" stroke="#222222" stroke-width="0.22" fill="#222222" >1.2</text>
<line x1="28.50" y1="375.55" x2="31.50" y2="375.55" stroke="#333333" stroke-width="1" />
<text x="27.80" y="378.18" font-size="7.3" text-anchor="end" stroke="#222222" stroke-width="0.22" fill="#222222" >1.3</text>
<line x1="39.96" y1="395.80" x2="73.50" y2="395.80" stroke="#f52a2a" stroke-width="1.4" />
<line x1="96.62" y1="403.23" x2="130.35" y2="403.23" stroke="#4ee23a" stroke-width="1.4" />
<path d="M153.20,371.60 L156.08,394.00 L158.97,371.60 L161.85,394.00 L164.73,371.60 L167.62,394.00 L170.50,371.60 L173.38,394.00 L176.27,371.60 L179.15,394.00 L182.03,371.60 L184.92,394.00 L187.80,371.60" fill="none" stroke="#1f1ff5" stroke-width="1.4" stroke-linejoin="round" />
<line x1="152.70" y1="383.60" x2="187.80" y2="383.60" stroke="#000" stroke-width="1.15" stroke-dasharray="3.6 3.6"/>
<text x="151.20" y="386.48" font-size="8.0" text-anchor="end" stroke="#222222" stroke-width="0.22" fill="#222222" >1.18</text>
<rect x="194.40" y="370.50" width="16.20" height="33.90" fill="#fff" stroke="#333" stroke-width="1"/>
<text x="0" y="0" font-size="9.4" fill="#3a3a3a" text-anchor="middle" transform="translate(199.21,387.45) rotate(90)">Target</text>
<line x1="31.00" y1="404.20" x2="194.40" y2="404.20" stroke="#333333" stroke-width="1" />
<line x1="35.60" y1="404.20" x2="35.60" y2="407.20" stroke="#333333" stroke-width="1" />
<text x="35.60" y="415.63" font-size="7.3" text-anchor="middle" stroke="#222222" stroke-width="0.22" fill="#222222" >-10</text>
<line x1="73.50" y1="404.20" x2="73.50" y2="407.20" stroke="#333333" stroke-width="1" />
<text x="73.50" y="415.63" font-size="7.3" text-anchor="middle" stroke="#222222" stroke-width="0.22" fill="#222222" >0</text>
<line x1="111.40" y1="404.20" x2="111.40" y2="407.20" stroke="#333333" stroke-width="1" />
<text x="111.40" y="415.63" font-size="7.3" text-anchor="middle" stroke="#222222" stroke-width="0.22" fill="#222222" >10</text>
<line x1="149.30" y1="404.20" x2="149.30" y2="407.20" stroke="#333333" stroke-width="1" />
<text x="149.30" y="415.63" font-size="7.3" text-anchor="middle" stroke="#222222" stroke-width="0.22" fill="#222222" >20</text>
<line x1="187.20" y1="404.20" x2="187.20" y2="407.20" stroke="#333333" stroke-width="1" />
<text x="187.20" y="415.63" font-size="7.3" text-anchor="middle" stroke="#222222" stroke-width="0.22" fill="#222222" >30</text>
<text x="102.3" y="426.80" font-size="10.2" font-weight="bold" fill="#111" textLength="22.0" lengthAdjust="spacingAndGlyphs">Time</text>
<text x="0" y="0" font-size="9.5" font-weight="bold" fill="#111" textLength="51.1" lengthAdjust="spacingAndGlyphs" transform="translate(7.90,373.30) rotate(-90)">Expression</text>
<line x1="228.30" y1="322.20" x2="260.80" y2="322.20" stroke="#f52a2a" stroke-width="1.4" />
<text x="270.40" y="325.20" font-size="8.3" text-anchor="start" font-weight="bold" fill="#111" >N</text>
<line x1="228.30" y1="339.00" x2="260.80" y2="339.00" stroke="#4ee23a" stroke-width="1.4" />
<text x="270.40" y="342.00" font-size="8.3" text-anchor="start" font-weight="bold" fill="#111" >H</text>
<line x1="228.30" y1="355.40" x2="260.80" y2="355.40" stroke="#1f1ff5" stroke-width="1.4" />
<text x="270.40" y="358.40" font-size="8.3" text-anchor="start" font-weight="bold" fill="#111" >O</text>
<rect x="223.50" y="384.70" width="46.90" height="3.2" fill="#ff1a1a"/>
<text x="270.70" y="389.90" font-size="8.0" text-anchor="start" stroke="#222222" stroke-width="0.22" fill="#222222" >1</text>
<text x="221.30" y="388.90" font-size="7" text-anchor="end" font-weight="bold" fill="#111" >N</text>
<rect x="223.50" y="391.50" width="41.74" height="3.2" fill="#2ee82e"/>
<text x="265.54" y="396.70" font-size="8.0" text-anchor="start" stroke="#222222" stroke-width="0.22" fill="#222222" >0.89</text>
<text x="221.30" y="395.70" font-size="7" text-anchor="end" font-weight="bold" fill="#111" >H</text>
<rect x="223.50" y="397.90" width="55.34" height="3.2" fill="#1414ff"/>
<text x="279.14" y="403.10" font-size="8.0" text-anchor="start" stroke="#222222" stroke-width="0.22" fill="#222222" >1.18</text>
<text x="221.30" y="402.10" font-size="7" text-anchor="end" font-weight="bold" fill="#111" >O</text>
<line x1="218.60" y1="404.70" x2="301.80" y2="404.70" stroke="#333333" stroke-width="1" />
<line x1="223.50" y1="404.70" x2="223.50" y2="407.70" stroke="#333333" stroke-width="1" />
<text x="223.50" y="416.03" font-size="7.3" text-anchor="middle" stroke="#7a7a7a" stroke-width="0.22" fill="#7a7a7a" >0.0</text>
<line x1="246.95" y1="404.70" x2="246.95" y2="407.70" stroke="#333333" stroke-width="1" />
<text x="246.95" y="416.03" font-size="7.3" text-anchor="middle" stroke="#7a7a7a" stroke-width="0.22" fill="#7a7a7a" >0.5</text>
<line x1="270.40" y1="404.70" x2="270.40" y2="407.70" stroke="#333333" stroke-width="1" />
<text x="270.40" y="416.03" font-size="7.3" text-anchor="middle" stroke="#7a7a7a" stroke-width="0.22" fill="#7a7a7a" >1.0</text>
<line x1="293.85" y1="404.70" x2="293.85" y2="407.70" stroke="#333333" stroke-width="1" />
<text x="293.85" y="416.03" font-size="7.3" text-anchor="middle" stroke="#7a7a7a" stroke-width="0.22" fill="#7a7a7a" >1.5</text>
<text x="211.9" y="427.20" font-size="7.3" font-weight="bold" fill="#111" textLength="86.0" lengthAdjust="spacingAndGlyphs">Target Gene Expression</text>
<text x="15.40" y="481.30" font-size="15.5" fill="#111" textLength="20.10" lengthAdjust="spacingAndGlyphs">(E)</text>
<text x="63.10" y="523" font-size="11.57" font-weight="bold" fill="#111">N&lt;H&lt;O /</text>
<text x="115.47" y="524.26" font-size="13.67" fill="#111">(</text>
<text x="121.15" y="523" font-size="11.57" font-weight="bold" fill="#111" textLength="128.1" lengthAdjust="spacingAndGlyphs">K_H=1.162, K_TF=0.115</text>
<text x="251.12" y="524.26" font-size="13.67" fill="#111">)</text>
<line x1="39.40" y1="530.50" x2="39.40" y2="566.00" stroke="#333333" stroke-width="1" />
<line x1="36.40" y1="564.40" x2="39.40" y2="564.40" stroke="#333333" stroke-width="1" />
<text x="34.70" y="567.03" font-size="7.3" text-anchor="end" stroke="#222222" stroke-width="0.22" fill="#222222" >0.00</text>
<line x1="36.40" y1="556.23" x2="39.40" y2="556.23" stroke="#333333" stroke-width="1" />
<text x="34.70" y="558.85" font-size="7.3" text-anchor="end" stroke="#222222" stroke-width="0.22" fill="#222222" >0.25</text>
<line x1="36.40" y1="548.05" x2="39.40" y2="548.05" stroke="#333333" stroke-width="1" />
<text x="34.70" y="550.68" font-size="7.3" text-anchor="end" stroke="#222222" stroke-width="0.22" fill="#222222" >0.50</text>
<line x1="36.40" y1="539.88" x2="39.40" y2="539.88" stroke="#333333" stroke-width="1" />
<text x="34.70" y="542.50" font-size="7.3" text-anchor="end" stroke="#222222" stroke-width="0.22" fill="#222222" >0.75</text>
<line x1="36.40" y1="531.70" x2="39.40" y2="531.70" stroke="#333333" stroke-width="1" />
<text x="34.70" y="534.33" font-size="7.3" text-anchor="end" stroke="#222222" stroke-width="0.22" fill="#222222" >1.00</text>
<line x1="47.23" y1="564.40" x2="81.30" y2="564.40" stroke="#f52a2a" stroke-width="1.4" />
<line x1="104.78" y1="531.70" x2="139.05" y2="531.70" stroke="#4ee23a" stroke-width="1.4" />
<path d="M162.70,533.60 L162.70,532.60 L165.64,532.60 L166.39,564.30 L167.83,564.30 L168.58,532.60 L171.52,532.60 L172.27,564.30 L173.72,564.30 L174.47,532.60 L177.41,532.60 L178.16,564.30 L179.60,564.30 L180.35,532.60 L183.29,532.60 L184.04,564.30 L185.48,564.30 L186.23,532.60 L189.17,532.60 L189.92,564.30 L191.37,564.30 L192.12,532.60 L198.00,532.60 L198.00,564.30" fill="none" stroke="#1f1ff5" stroke-width="1.4" stroke-linejoin="round" />
<line x1="162.20" y1="543.20" x2="198.00" y2="543.20" stroke="#000" stroke-width="1.15" stroke-dasharray="3.6 3.6"/>
<text x="160.70" y="546.15" font-size="8.2" text-anchor="end" stroke="#222222" stroke-width="0.22" fill="#222222" >0.67</text>
<rect x="204.80" y="530.90" width="16.60" height="34.60" fill="#fff" stroke="#333" stroke-width="1"/>
<text x="0" y="0" font-size="9.4" fill="#3a3a3a" text-anchor="middle" transform="translate(209.81,548.20) rotate(90)">HIF1A</text>
<line x1="39.40" y1="571.10" x2="39.40" y2="606.00" stroke="#333333" stroke-width="1" />
<line x1="36.40" y1="604.60" x2="39.40" y2="604.60" stroke="#333333" stroke-width="1" />
<text x="34.70" y="607.23" font-size="7.3" text-anchor="end" stroke="#222222" stroke-width="0.22" fill="#222222" >0.0</text>
<line x1="36.40" y1="595.67" x2="39.40" y2="595.67" stroke="#333333" stroke-width="1" />
<text x="34.70" y="598.30" font-size="7.3" text-anchor="end" stroke="#222222" stroke-width="0.22" fill="#222222" >0.1</text>
<line x1="36.40" y1="586.74" x2="39.40" y2="586.74" stroke="#333333" stroke-width="1" />
<text x="34.70" y="589.37" font-size="7.3" text-anchor="end" stroke="#222222" stroke-width="0.22" fill="#222222" >0.2</text>
<line x1="36.40" y1="577.81" x2="39.40" y2="577.81" stroke="#333333" stroke-width="1" />
<text x="34.70" y="580.44" font-size="7.3" text-anchor="end" stroke="#222222" stroke-width="0.22" fill="#222222" >0.3</text>
<line x1="47.23" y1="604.60" x2="81.30" y2="604.60" stroke="#f52a2a" stroke-width="1.4" />
<line x1="104.78" y1="572.99" x2="139.05" y2="572.99" stroke="#4ee23a" stroke-width="1.4" />
<path d="M162.70,588.60 L165.64,579.60 L168.58,588.60 L171.52,579.60 L174.47,588.60 L177.41,579.60 L180.35,588.60 L183.29,579.60 L186.23,588.60 L189.17,579.60 L192.12,588.60 L195.06,579.60 L198.00,588.60" fill="none" stroke="#1f1ff5" stroke-width="1.4" stroke-linejoin="round" />
<line x1="162.20" y1="584.30" x2="198.00" y2="584.30" stroke="#000" stroke-width="1.15" stroke-dasharray="3.6 3.6"/>
<text x="160.70" y="587.25" font-size="8.2" text-anchor="end" stroke="#222222" stroke-width="0.22" fill="#222222" >0.24</text>
<rect x="204.80" y="571.80" width="16.60" height="34.10" fill="#fff" stroke="#333" stroke-width="1"/>
<text x="0" y="0" font-size="9.4" fill="#3a3a3a" text-anchor="middle" transform="translate(209.81,588.85) rotate(90)">TF</text>
<line x1="39.40" y1="611.30" x2="39.40" y2="645.90" stroke="#333333" stroke-width="1" />
<line x1="36.40" y1="644.70" x2="39.40" y2="644.70" stroke="#333333" stroke-width="1" />
<text x="34.70" y="647.33" font-size="7.3" text-anchor="end" stroke="#222222" stroke-width="0.22" fill="#222222" >1.0</text>
<line x1="36.40" y1="634.04" x2="39.40" y2="634.04" stroke="#333333" stroke-width="1" />
<text x="34.70" y="636.67" font-size="7.3" text-anchor="end" stroke="#222222" stroke-width="0.22" fill="#222222" >1.2</text>
<line x1="36.40" y1="623.38" x2="39.40" y2="623.38" stroke="#333333" stroke-width="1" />
<text x="34.70" y="626.01" font-size="7.3" text-anchor="end" stroke="#222222" stroke-width="0.22" fill="#222222" >1.4</text>
<line x1="36.40" y1="612.72" x2="39.40" y2="612.72" stroke="#333333" stroke-width="1" />
<text x="34.70" y="615.35" font-size="7.3" text-anchor="end" stroke="#222222" stroke-width="0.22" fill="#222222" >1.6</text>
<line x1="47.23" y1="644.70" x2="81.30" y2="644.70" stroke="#f52a2a" stroke-width="1.4" />
<line x1="104.78" y1="629.78" x2="139.05" y2="629.78" stroke="#4ee23a" stroke-width="1.4" />
<path d="M162.70,612.80 L165.64,625.00 L168.58,612.80 L171.52,625.00 L174.47,612.80 L177.41,625.00 L180.35,612.80 L183.29,625.00 L186.23,612.80 L189.17,625.00 L192.12,612.80 L195.06,625.00 L198.00,612.80" fill="none" stroke="#1f1ff5" stroke-width="1.4" stroke-linejoin="round" />
<line x1="162.20" y1="619.50" x2="198.00" y2="619.50" stroke="#000" stroke-width="1.15" stroke-dasharray="3.6 3.6"/>
<text x="160.70" y="622.45" font-size="8.2" text-anchor="end" stroke="#222222" stroke-width="0.22" fill="#222222" >1.48</text>
<rect x="204.80" y="612.00" width="16.60" height="34.10" fill="#fff" stroke="#333" stroke-width="1"/>
<text x="0" y="0" font-size="9.4" fill="#3a3a3a" text-anchor="middle" transform="translate(209.81,629.05) rotate(90)">Target</text>
<line x1="38.90" y1="645.90" x2="204.80" y2="645.90" stroke="#333333" stroke-width="1" />
<line x1="42.80" y1="645.90" x2="42.80" y2="648.90" stroke="#333333" stroke-width="1" />
<text x="42.80" y="657.03" font-size="7.3" text-anchor="middle" stroke="#222222" stroke-width="0.22" fill="#222222" >-10</text>
<line x1="81.30" y1="645.90" x2="81.30" y2="648.90" stroke="#333333" stroke-width="1" />
<text x="81.30" y="657.03" font-size="7.3" text-anchor="middle" stroke="#222222" stroke-width="0.22" fill="#222222" >0</text>
<line x1="119.80" y1="645.90" x2="119.80" y2="648.90" stroke="#333333" stroke-width="1" />
<text x="119.80" y="657.03" font-size="7.3" text-anchor="middle" stroke="#222222" stroke-width="0.22" fill="#222222" >10</text>
<line x1="158.30" y1="645.90" x2="158.30" y2="648.90" stroke="#333333" stroke-width="1" />
<text x="158.30" y="657.03" font-size="7.3" text-anchor="middle" stroke="#222222" stroke-width="0.22" fill="#222222" >20</text>
<line x1="196.80" y1="645.90" x2="196.80" y2="648.90" stroke="#333333" stroke-width="1" />
<text x="196.80" y="657.03" font-size="7.3" text-anchor="middle" stroke="#222222" stroke-width="0.22" fill="#222222" >30</text>
<text x="111.6" y="668.90" font-size="10.2" font-weight="bold" fill="#111" textLength="21.6" lengthAdjust="spacingAndGlyphs">Time</text>
<text x="0" y="0" font-size="9.5" font-weight="bold" fill="#111" textLength="52.8" lengthAdjust="spacingAndGlyphs" transform="translate(13.60,615.00) rotate(-90)">Expression</text>
<line x1="238.90" y1="562.30" x2="272.20" y2="562.30" stroke="#f52a2a" stroke-width="1.4" />
<text x="281.70" y="565.30" font-size="8.3" text-anchor="start" font-weight="bold" fill="#111" >N</text>
<line x1="238.90" y1="579.50" x2="272.20" y2="579.50" stroke="#4ee23a" stroke-width="1.4" />
<text x="281.70" y="582.50" font-size="8.3" text-anchor="start" font-weight="bold" fill="#111" >H</text>
<line x1="238.90" y1="596.30" x2="272.20" y2="596.30" stroke="#1f1ff5" stroke-width="1.4" />
<text x="281.70" y="599.30" font-size="8.3" text-anchor="start" font-weight="bold" fill="#111" >O</text>
<rect x="234.20" y="626.00" width="38.60" height="3.2" fill="#ff1a1a"/>
<text x="273.10" y="631.20" font-size="8.0" text-anchor="start" stroke="#222222" stroke-width="0.22" fill="#222222" >1</text>
<text x="232.00" y="630.20" font-size="7" text-anchor="end" font-weight="bold" fill="#111" >N</text>
<rect x="234.20" y="632.90" width="49.41" height="3.2" fill="#2ee82e"/>
<text x="283.91" y="638.10" font-size="8.0" text-anchor="start" stroke="#222222" stroke-width="0.22" fill="#222222" >1.28</text>
<text x="232.00" y="637.10" font-size="7" text-anchor="end" font-weight="bold" fill="#111" >H</text>
<rect x="234.20" y="639.80" width="57.13" height="3.2" fill="#1414ff"/>
<text x="291.63" y="645.00" font-size="8.0" text-anchor="start" stroke="#222222" stroke-width="0.22" fill="#222222" >1.48</text>
<text x="232.00" y="644.00" font-size="7" text-anchor="end" font-weight="bold" fill="#111" >O</text>
<line x1="229.30" y1="646.80" x2="313.70" y2="646.80" stroke="#333333" stroke-width="1" />
<line x1="234.20" y1="646.80" x2="234.20" y2="649.80" stroke="#333333" stroke-width="1" />
<text x="234.20" y="657.33" font-size="7.3" text-anchor="middle" stroke="#7a7a7a" stroke-width="0.22" fill="#7a7a7a" clip-path="url(#clipE)">0.0</text>
<line x1="253.50" y1="646.80" x2="253.50" y2="649.80" stroke="#333333" stroke-width="1" />
<text x="253.50" y="657.33" font-size="7.3" text-anchor="middle" stroke="#7a7a7a" stroke-width="0.22" fill="#7a7a7a" clip-path="url(#clipE)">0.5</text>
<line x1="272.80" y1="646.80" x2="272.80" y2="649.80" stroke="#333333" stroke-width="1" />
<text x="272.80" y="657.33" font-size="7.3" text-anchor="middle" stroke="#7a7a7a" stroke-width="0.22" fill="#7a7a7a" clip-path="url(#clipE)">1.0</text>
<line x1="292.10" y1="646.80" x2="292.10" y2="649.80" stroke="#333333" stroke-width="1" />
<text x="292.10" y="657.33" font-size="7.3" text-anchor="middle" stroke="#7a7a7a" stroke-width="0.22" fill="#7a7a7a" clip-path="url(#clipE)">1.5</text>
<line x1="311.40" y1="646.80" x2="311.40" y2="649.80" stroke="#333333" stroke-width="1" />
<text x="311.40" y="657.33" font-size="7.3" text-anchor="middle" stroke="#7a7a7a" stroke-width="0.22" fill="#7a7a7a" clip-path="url(#clipE)">2.0</text>
<text x="222.7" y="669.10" font-size="7.3" font-weight="bold" fill="#111" textLength="87.0" lengthAdjust="spacingAndGlyphs">Target Gene Expression</text>
<text x="323.00" y="509.60" font-size="15.5" fill="#111" textLength="18.80" lengthAdjust="spacingAndGlyphs">(F)</text>
<text x="415.90" y="522.1" font-size="11.82" font-weight="bold" fill="#111">O&lt;N&lt;H /</text>
<text x="469.39" y="523.39" font-size="13.96" fill="#111">(</text>
<text x="475.19" y="522.1" font-size="11.82" font-weight="bold" fill="#111" textLength="130.8" lengthAdjust="spacingAndGlyphs">K_H=1.476, K_TF=0.219</text>
<text x="607.95" y="523.39" font-size="13.96" fill="#111">)</text>
<line x1="391.30" y1="530.50" x2="391.30" y2="565.00" stroke="#333333" stroke-width="1" />
<line x1="388.30" y1="563.60" x2="391.30" y2="563.60" stroke="#333333" stroke-width="1" />
<text x="386.50" y="566.30" font-size="7.5" text-anchor="end" stroke="#222222" stroke-width="0.22" fill="#222222" >0.00</text>
<line x1="388.30" y1="555.68" x2="391.30" y2="555.68" stroke="#333333" stroke-width="1" />
<text x="386.50" y="558.38" font-size="7.5" text-anchor="end" stroke="#222222" stroke-width="0.22" fill="#222222" >0.25</text>
<line x1="388.30" y1="547.75" x2="391.30" y2="547.75" stroke="#333333" stroke-width="1" />
<text x="386.50" y="550.45" font-size="7.5" text-anchor="end" stroke="#222222" stroke-width="0.22" fill="#222222" >0.50</text>
<line x1="388.30" y1="539.83" x2="391.30" y2="539.83" stroke="#333333" stroke-width="1" />
<text x="386.50" y="542.53" font-size="7.5" text-anchor="end" stroke="#222222" stroke-width="0.22" fill="#222222" >0.75</text>
<line x1="388.30" y1="531.90" x2="391.30" y2="531.90" stroke="#333333" stroke-width="1" />
<text x="386.50" y="534.60" font-size="7.5" text-anchor="end" stroke="#222222" stroke-width="0.22" fill="#222222" >1.00</text>
<line x1="399.38" y1="563.60" x2="434.10" y2="563.60" stroke="#f52a2a" stroke-width="1.4" />
<line x1="458.03" y1="531.90" x2="492.95" y2="531.90" stroke="#4ee23a" stroke-width="1.4" />
<path d="M516.70,532.40 L516.70,531.40 L519.67,531.40 L520.42,563.80 L521.88,563.80 L522.63,531.40 L525.60,531.40 L526.35,563.80 L527.82,563.80 L528.57,531.40 L531.53,531.40 L532.28,563.80 L533.75,563.80 L534.50,531.40 L537.47,531.40 L538.22,563.80 L539.68,563.80 L540.43,531.40 L543.40,531.40 L544.15,563.80 L545.62,563.80 L546.37,531.40 L552.30,531.40 L552.30,563.80" fill="none" stroke="#1f1ff5" stroke-width="1.4" stroke-linejoin="round" />
<line x1="516.20" y1="542.20" x2="552.30" y2="542.20" stroke="#000" stroke-width="1.15" stroke-dasharray="3.6 3.6"/>
<text x="514.70" y="545.12" font-size="8.1" text-anchor="end" stroke="#222222" stroke-width="0.22" fill="#222222" >0.67</text>
<rect x="559.10" y="530.20" width="17.70" height="35.40" fill="#fff" stroke="#333" stroke-width="1"/>
<text x="0" y="0" font-size="9.8" fill="#3a3a3a" text-anchor="middle" transform="translate(564.52,547.90) rotate(90)">HIF1A</text>
<line x1="391.30" y1="571.10" x2="391.30" y2="606.00" stroke="#333333" stroke-width="1" />
<line x1="388.30" y1="604.60" x2="391.30" y2="604.60" stroke="#333333" stroke-width="1" />
<text x="386.50" y="607.30" font-size="7.5" text-anchor="end" stroke="#222222" stroke-width="0.22" fill="#222222" >0.00</text>
<line x1="388.30" y1="595.50" x2="391.30" y2="595.50" stroke="#333333" stroke-width="1" />
<text x="386.50" y="598.20" font-size="7.5" text-anchor="end" stroke="#222222" stroke-width="0.22" fill="#222222" >0.05</text>
<line x1="388.30" y1="586.40" x2="391.30" y2="586.40" stroke="#333333" stroke-width="1" />
<text x="386.50" y="589.10" font-size="7.5" text-anchor="end" stroke="#222222" stroke-width="0.22" fill="#222222" >0.10</text>
<line x1="388.30" y1="577.30" x2="391.30" y2="577.30" stroke="#333333" stroke-width="1" />
<text x="386.50" y="580.00" font-size="7.5" text-anchor="end" stroke="#222222" stroke-width="0.22" fill="#222222" >0.15</text>
<line x1="399.38" y1="604.60" x2="434.10" y2="604.60" stroke="#f52a2a" stroke-width="1.4" />
<line x1="458.03" y1="572.39" x2="492.95" y2="572.39" stroke="#4ee23a" stroke-width="1.4" />
<path d="M516.70,588.60 L519.67,578.60 L522.63,588.60 L525.60,578.60 L528.57,588.60 L531.53,578.60 L534.50,588.60 L537.47,578.60 L540.43,588.60 L543.40,578.60 L546.37,588.60 L549.33,578.60 L552.30,588.60" fill="none" stroke="#1f1ff5" stroke-width="1.4" stroke-linejoin="round" />
<line x1="516.20" y1="583.40" x2="552.30" y2="583.40" stroke="#000" stroke-width="1.15" stroke-dasharray="3.6 3.6"/>
<text x="514.70" y="586.32" font-size="8.1" text-anchor="end" stroke="#222222" stroke-width="0.22" fill="#222222" >0.12</text>
<rect x="559.10" y="571.00" width="17.70" height="35.30" fill="#fff" stroke="#333" stroke-width="1"/>
<text x="0" y="0" font-size="9.8" fill="#3a3a3a" text-anchor="middle" transform="translate(564.52,588.65) rotate(90)">TF</text>
<line x1="391.30" y1="612.40" x2="391.30" y2="646.60" stroke="#333333" stroke-width="1" />
<line x1="388.30" y1="638.74" x2="391.30" y2="638.74" stroke="#333333" stroke-width="1" />
<text x="386.50" y="641.44" font-size="7.5" text-anchor="end" stroke="#222222" stroke-width="0.22" fill="#222222" >0.96</text>
<line x1="388.30" y1="628.50" x2="391.30" y2="628.50" stroke="#333333" stroke-width="1" />
<text x="386.50" y="631.20" font-size="7.5" text-anchor="end" stroke="#222222" stroke-width="0.22" fill="#222222" >1.00</text>
<line x1="388.30" y1="618.26" x2="391.30" y2="618.26" stroke="#333333" stroke-width="1" />
<text x="386.50" y="620.96" font-size="7.5" text-anchor="end" stroke="#222222" stroke-width="0.22" fill="#222222" >1.04</text>
<path d="M399.38,629.52 Q406.64,628.50 414.49,628.50 L434.10,628.50" fill="none" stroke="#f52a2a" stroke-width="1.4" stroke-linejoin="round" />
<path d="M458.03,615.44 Q465.48,613.40 473.33,613.40 L492.95,613.40" fill="none" stroke="#4ee23a" stroke-width="1.4" stroke-linejoin="round" />
<path d="M516.70,633.84 L516.85,634.63 L517.00,635.52 L517.15,636.50 L517.29,637.53 L517.44,638.59 L517.59,639.65 L517.74,640.70 L517.89,641.70 L518.04,642.62 L518.18,643.45 L518.33,644.17 L518.48,644.76 L518.63,645.20 L518.78,645.48 L518.93,645.60 L519.07,645.55 L519.22,645.33 L519.37,644.95 L519.52,644.42 L519.67,643.76 L519.82,642.97 L519.96,642.08 L520.11,641.10 L520.26,640.07 L520.41,639.01 L520.56,637.95 L520.71,636.90 L520.85,635.90 L521.00,634.98 L521.15,634.15 L521.30,633.43 L521.45,632.84 L521.60,632.40 L521.74,632.12 L521.89,632.00 L522.04,632.05 L522.19,632.27 L522.34,632.65 L522.49,633.18 L522.63,633.84 L522.78,634.63 L522.93,635.52 L523.08,636.50 L523.23,637.53 L523.38,638.59 L523.52,639.65 L523.67,640.70 L523.82,641.70 L523.97,642.62 L524.12,643.45 L524.26,644.17 L524.41,644.76 L524.56,645.20 L524.71,645.48 L524.86,645.60 L525.01,645.55 L525.15,645.33 L525.30,644.95 L525.45,644.42 L525.60,643.76 L525.75,642.97 L525.90,642.08 L526.05,641.10 L526.19,640.07 L526.34,639.01 L526.49,637.95 L526.64,636.90 L526.79,635.90 L526.94,634.98 L527.08,634.15 L527.23,633.43 L527.38,632.84 L527.53,632.40 L527.68,632.12 L527.83,632.00 L527.97,632.05 L528.12,632.27 L528.27,632.65 L528.42,633.18 L528.57,633.84 L528.72,634.63 L528.86,635.52 L529.01,636.50 L529.16,637.53 L529.31,638.59 L529.46,639.65 L529.61,640.70 L529.75,641.70 L529.90,642.62 L530.05,643.45 L530.20,644.17 L530.35,644.76 L530.50,645.20 L530.64,645.48 L530.79,645.60 L530.94,645.55 L531.09,645.33 L531.24,644.95 L531.38,644.42 L531.53,643.76 L531.68,642.97 L531.83,642.08 L531.98,641.10 L532.13,640.07 L532.27,639.01 L532.42,637.95 L532.57,636.90 L532.72,635.90 L532.87,634.98 L533.02,634.15 L533.16,633.43 L533.31,632.84 L533.46,632.40 L533.61,632.12 L533.76,632.00 L533.91,632.05 L534.05,632.27 L534.20,632.65 L534.35,633.18 L534.50,633.84 L534.65,634.63 L534.80,635.52 L534.95,636.50 L535.09,637.53 L535.24,638.59 L535.39,639.65 L535.54,640.70 L535.69,641.70 L535.84,642.62 L535.98,643.45 L536.13,644.17 L536.28,644.76 L536.43,645.20 L536.58,645.48 L536.73,645.60 L536.87,645.55 L537.02,645.33 L537.17,644.95 L537.32,644.42 L537.47,643.76 L537.62,642.97 L537.76,642.08 L537.91,641.10 L538.06,640.07 L538.21,639.01 L538.36,637.95 L538.50,636.90 L538.65,635.90 L538.80,634.98 L538.95,634.15 L539.10,633.43 L539.25,632.84 L539.39,632.40 L539.54,632.12 L539.69,632.00 L539.84,632.05 L539.99,632.27 L540.14,632.65 L540.28,633.18 L540.43,633.84 L540.58,634.63 L540.73,635.52 L540.88,636.50 L541.03,637.53 L541.17,638.59 L541.32,639.65 L541.47,640.70 L541.62,641.70 L541.77,642.62 L541.92,643.45 L542.06,644.17 L542.21,644.76 L542.36,645.20 L542.51,645.48 L542.66,645.60 L542.81,645.55 L542.95,645.33 L543.10,644.95 L543.25,644.42 L543.40,643.76 L543.55,642.97 L543.70,642.08 L543.85,641.10 L543.99,640.07 L544.14,639.01 L544.29,637.95 L544.44,636.90 L544.59,635.90 L544.74,634.98 L544.88,634.15 L545.03,633.43 L545.18,632.84 L545.33,632.40 L545.48,632.12 L545.62,632.00 L545.77,632.05 L545.92,632.27 L546.07,632.65 L546.22,633.18 L546.37,633.84 L546.51,634.63 L546.66,635.52 L546.81,636.50 L546.96,637.53 L547.11,638.59 L547.26,639.65 L547.40,640.70 L547.55,641.70 L547.70,642.62 L547.85,643.45 L548.00,644.17 L548.15,644.76 L548.29,645.20 L548.44,645.48 L548.59,645.60 L548.74,645.55 L548.89,645.33 L549.04,644.95 L549.18,644.42 L549.33,643.76 L549.48,642.97 L549.63,642.08 L549.78,641.10 L549.93,640.07 L550.07,639.01 L550.22,637.95 L550.37,636.90 L550.52,635.90 L550.67,634.98 L550.82,634.15 L550.96,633.43 L551.11,632.84 L551.26,632.40 L551.41,632.12 L551.56,632.00 L551.71,632.05 L551.85,632.27 L552.00,632.65 L552.15,633.18 L552.30,633.84" fill="none" stroke="#1f1ff5" stroke-width="1.4" stroke-linejoin="round" />
<line x1="516.20" y1="640.80" x2="552.30" y2="640.80" stroke="#000" stroke-width="1.15" stroke-dasharray="3.6 3.6"/>
<text x="514.70" y="643.72" font-size="8.1" text-anchor="end" stroke="#222222" stroke-width="0.22" fill="#222222" >0.95</text>
<rect x="559.10" y="612.30" width="17.70" height="34.80" fill="#fff" stroke="#333" stroke-width="1"/>
<text x="0" y="0" font-size="9.8" fill="#3a3a3a" text-anchor="middle" transform="translate(564.52,629.70) rotate(90)">Target</text>
<line x1="390.80" y1="647.10" x2="559.10" y2="647.10" stroke="#333333" stroke-width="1" />
<line x1="394.87" y1="647.10" x2="394.87" y2="650.10" stroke="#333333" stroke-width="1" />
<text x="394.87" y="658.40" font-size="7.5" text-anchor="middle" stroke="#222222" stroke-width="0.22" fill="#222222" >-10</text>
<line x1="434.10" y1="647.10" x2="434.10" y2="650.10" stroke="#333333" stroke-width="1" />
<text x="434.10" y="658.40" font-size="7.5" text-anchor="middle" stroke="#222222" stroke-width="0.22" fill="#222222" >0</text>
<line x1="473.33" y1="647.10" x2="473.33" y2="650.10" stroke="#333333" stroke-width="1" />
<text x="473.33" y="658.40" font-size="7.5" text-anchor="middle" stroke="#222222" stroke-width="0.22" fill="#222222" >10</text>
<line x1="512.56" y1="647.10" x2="512.56" y2="650.10" stroke="#333333" stroke-width="1" />
<text x="512.56" y="658.40" font-size="7.5" text-anchor="middle" stroke="#222222" stroke-width="0.22" fill="#222222" >20</text>
<line x1="551.79" y1="647.10" x2="551.79" y2="650.10" stroke="#333333" stroke-width="1" />
<text x="551.79" y="658.40" font-size="7.5" text-anchor="middle" stroke="#222222" stroke-width="0.22" fill="#222222" >30</text>
<text x="464.6" y="669.60" font-size="10.2" font-weight="bold" fill="#111" textLength="22.3" lengthAdjust="spacingAndGlyphs">Time</text>
<text x="0" y="0" font-size="9.5" font-weight="bold" fill="#111" textLength="52.3" lengthAdjust="spacingAndGlyphs" transform="translate(366.60,614.50) rotate(-90)">Expression</text>
<line x1="593.90" y1="562.00" x2="627.90" y2="562.00" stroke="#f52a2a" stroke-width="1.4" />
<text x="638.00" y="565.00" font-size="8.3" text-anchor="start" font-weight="bold" fill="#111" >N</text>
<line x1="593.90" y1="578.90" x2="627.90" y2="578.90" stroke="#4ee23a" stroke-width="1.4" />
<text x="638.00" y="581.90" font-size="8.3" text-anchor="start" font-weight="bold" fill="#111" >H</text>
<line x1="593.90" y1="596.00" x2="627.90" y2="596.00" stroke="#1f1ff5" stroke-width="1.4" />
<text x="638.00" y="599.00" font-size="8.3" text-anchor="start" font-weight="bold" fill="#111" >O</text>
<rect x="589.00" y="626.50" width="55.20" height="3.2" fill="#ff1a1a"/>
<text x="644.50" y="631.70" font-size="8.0" text-anchor="start" stroke="#222222" stroke-width="0.22" fill="#222222" >1</text>
<text x="586.80" y="630.70" font-size="7" text-anchor="end" font-weight="bold" fill="#111" >N</text>
<rect x="589.00" y="633.30" width="58.51" height="3.2" fill="#2ee82e"/>
<text x="647.81" y="638.50" font-size="8.0" text-anchor="start" stroke="#222222" stroke-width="0.22" fill="#222222" >1.06</text>
<text x="586.80" y="637.50" font-size="7" text-anchor="end" font-weight="bold" fill="#111" >H</text>
<rect x="589.00" y="640.10" width="52.44" height="3.2" fill="#1414ff"/>
<text x="641.74" y="645.30" font-size="8.0" text-anchor="start" stroke="#222222" stroke-width="0.22" fill="#222222" >0.95</text>
<text x="586.80" y="644.30" font-size="7" text-anchor="end" font-weight="bold" fill="#111" >O</text>
<line x1="583.00" y1="647.10" x2="666.80" y2="647.10" stroke="#333333" stroke-width="1" />
<line x1="589.00" y1="647.10" x2="589.00" y2="650.10" stroke="#333333" stroke-width="1" />
<text x="589.00" y="657.70" font-size="7.5" text-anchor="middle" stroke="#7a7a7a" stroke-width="0.22" fill="#7a7a7a" >0.0</text>
<line x1="616.60" y1="647.10" x2="616.60" y2="650.10" stroke="#333333" stroke-width="1" />
<text x="616.60" y="657.70" font-size="7.5" text-anchor="middle" stroke="#7a7a7a" stroke-width="0.22" fill="#7a7a7a" >0.5</text>
<line x1="644.20" y1="647.10" x2="644.20" y2="650.10" stroke="#333333" stroke-width="1" />
<text x="644.20" y="657.70" font-size="7.5" text-anchor="middle" stroke="#7a7a7a" stroke-width="0.22" fill="#7a7a7a" >1.0</text>
<text x="577.6" y="670.60" font-size="7.3" font-weight="bold" fill="#111" textLength="88.4" lengthAdjust="spacingAndGlyphs">Target Gene Expression</text>
<line x1="296.30" y1="137.80" x2="488.60" y2="306.10" stroke="#111" stroke-width="0.8" />
<line x1="513.40" y1="187.80" x2="518.00" y2="396.80" stroke="#111" stroke-width="0.8" />
<line x1="301.80" y1="383.10" x2="462.20" y2="419.90" stroke="#111" stroke-width="0.8" />
<line x1="302.60" y1="504.50" x2="496.90" y2="425.60" stroke="#111" stroke-width="0.8" />
<line x1="508.80" y1="480.00" x2="540.20" y2="406.60" stroke="#111" stroke-width="0.8" />
<circle cx="488.6" cy="306.1" r="4.1" fill="#000"/>
<circle cx="518.0" cy="396.8" r="4.1" fill="#000"/>
<circle cx="462.2" cy="419.9" r="4.1" fill="#000"/>
<circle cx="496.9" cy="425.6" r="4.1" fill="#000"/>
<circle cx="540.2" cy="406.6" r="4.1" fill="#000"/>
</svg>
</body></html>
